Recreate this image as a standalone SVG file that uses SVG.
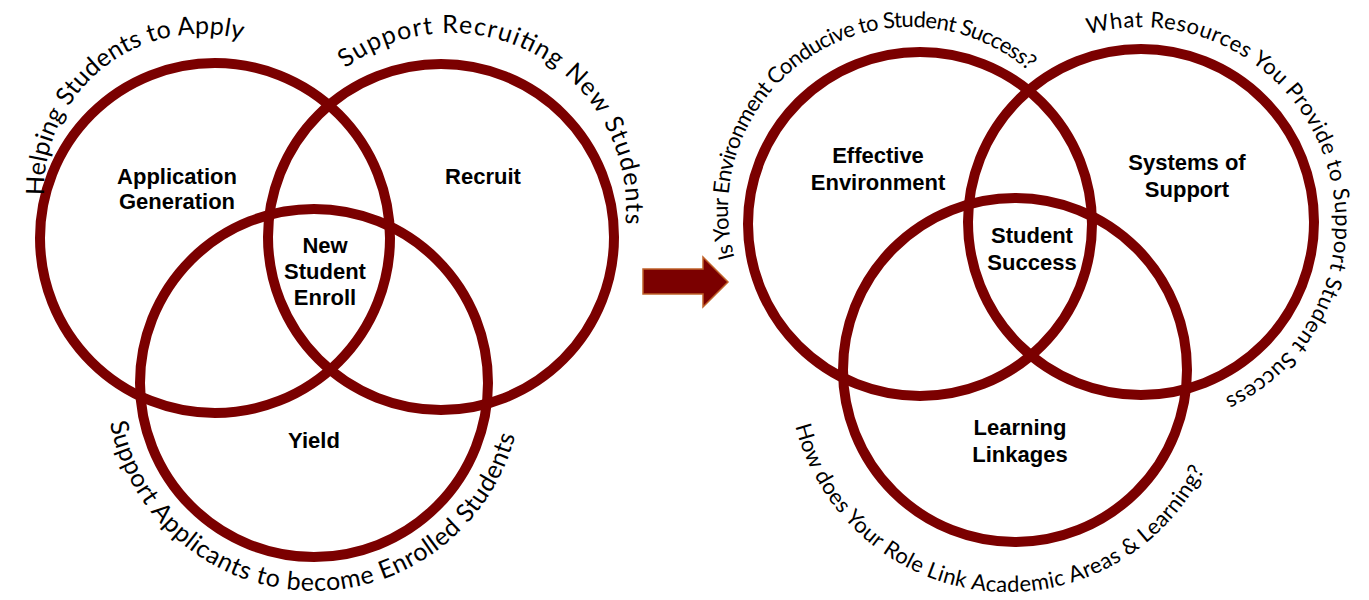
<svg xmlns="http://www.w3.org/2000/svg" xmlns:xlink="http://www.w3.org/1999/xlink" width="1369" height="600" viewBox="0 0 1369 600">
  <style>
    .ring { fill: none; stroke: #7b0000; stroke-width: 10; }
    .label { font-family: "Liberation Sans", Arial, sans-serif; font-weight: bold; font-size: 22px; fill: #000; text-anchor: middle; }
    .arcL { font-family: Lato, "Open Sans", sans-serif; font-size: 25px; fill: #000; }
    .arcR { font-family: Lato, "Open Sans", sans-serif; font-size: 22px; fill: #000; }
  </style>
  <defs>
    <!-- baselines for the curved captions -->
    <path id="pApply" d="M 44.1 195.1 A 157 157 0 0 1 244.8 40.2"/>
    <path id="pRecruit" d="M 345.4 68.4 A 175 175 0 0 1 624.9 227.5"/>
    <path id="pEnrolled" d="M 109.8 422.7 A 208 208 0 0 0 515.8 433.1"/>
    <path id="pEnv" d="M 734.6 257.6 A 182 182 0 0 1 1030.8 72.9"/>
    <path id="pResources" d="M 1088.2 34.3 A 195 195 0 0 1 1222.4 399.1"/>
    <path id="pRole" d="M 795.5 426 A 219 219 0 0 0 1207.3 463.8"/>
  </defs>

  <!-- left Venn: enrolment funnel -->
  <g id="left-venn">
    <g id="application-generation">
      <circle class="ring" cx="215" cy="238" r="175"/>
      <text class="label" x="177" y="184">Application</text>
      <text class="label" x="177" y="209">Generation</text>
    </g>
    <g id="recruit">
      <circle class="ring" cx="441" cy="237" r="173"/>
      <text class="label" x="483" y="184">Recruit</text>
    </g>
    <g id="yield">
      <circle class="ring" cx="314" cy="383" r="174"/>
      <text class="label" x="314" y="448">Yield</text>
    </g>
    <g id="new-student-enroll">
      <text class="label" x="325" y="253">New</text>
      <text class="label" x="325" y="279">Student</text>
      <text class="label" x="325" y="305">Enroll</text>
    </g>
    <g id="left-captions">
      <text class="arcL"><textPath xlink:href="#pApply" href="#pApply" textLength="292" lengthAdjust="spacing">Helping Students to Apply</textPath></text>
      <text class="arcL"><textPath xlink:href="#pRecruit" href="#pRecruit" textLength="404" lengthAdjust="spacing">Support Recruiting New Students</textPath></text>
      <text class="arcL"><textPath xlink:href="#pEnrolled" href="#pEnrolled" textLength="560" lengthAdjust="spacing">Support Applicants to become Enrolled Students</textPath></text>
    </g>
  </g>

  <!-- transition arrow -->
  <g id="connectors">
    <polygon points="643,269 703,269 703,257 728,282 703,307 703,294 643,294" fill="#7b0000" stroke="#c0622a" stroke-width="1.5" stroke-linejoin="miter"/>
  </g>

  <!-- right Venn: student success -->
  <g id="right-venn">
    <g id="effective-environment">
      <circle class="ring" cx="920" cy="224" r="172"/>
      <text class="label" x="878" y="163">Effective</text>
      <text class="label" x="878" y="190">Environment</text>
    </g>
    <g id="systems-of-support">
      <circle class="ring" cx="1141" cy="222" r="173"/>
      <text class="label" x="1187" y="170">Systems of</text>
      <text class="label" x="1187" y="197">Support</text>
    </g>
    <g id="learning-linkages">
      <circle class="ring" cx="1015" cy="370" r="172"/>
      <text class="label" x="1020" y="435">Learning</text>
      <text class="label" x="1020" y="462">Linkages</text>
    </g>
    <g id="student-success">
      <text class="label" x="1032" y="243">Student</text>
      <text class="label" x="1032" y="270">Success</text>
    </g>
    <g id="right-captions">
      <text class="arcR"><textPath xlink:href="#pEnv" href="#pEnv" textLength="464" lengthAdjust="spacing">Is Your Environment Conducive to Student Success?</textPath></text>
      <text class="arcR"><textPath xlink:href="#pResources" href="#pResources" textLength="578" lengthAdjust="spacing">What Resources You Provide to Support Student Success</textPath></text>
      <text class="arcR"><textPath xlink:href="#pRole" href="#pRole" textLength="534" lengthAdjust="spacing">How does Your Role Link Academic Areas &amp; Learning?</textPath></text>
    </g>
  </g>
</svg>
